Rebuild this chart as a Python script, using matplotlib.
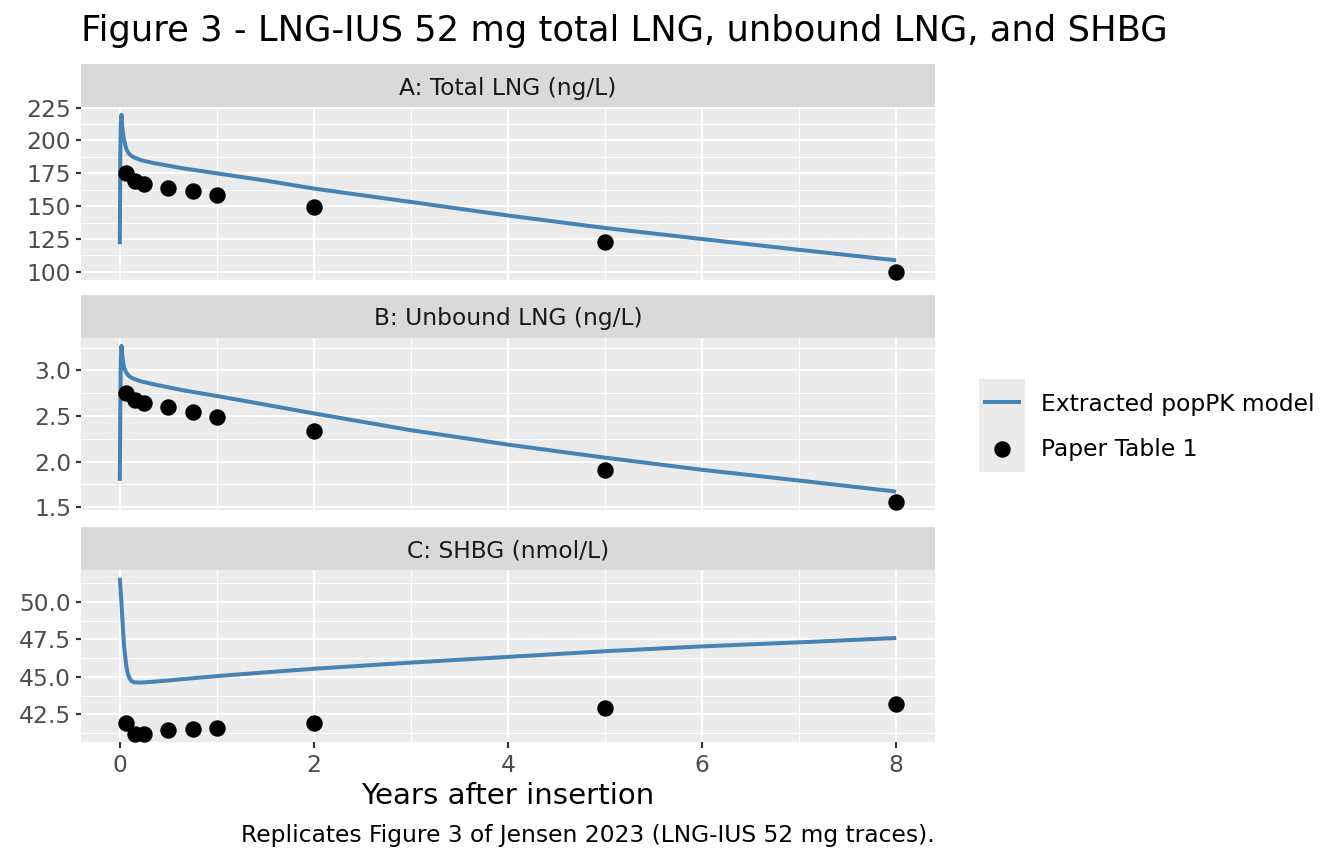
import matplotlib
matplotlib.use("Agg")
import matplotlib.pyplot as plt
from matplotlib.lines import Line2D
from matplotlib.patches import Rectangle
from matplotlib.ticker import MultipleLocator, FormatStrFormatter

# ---------------- data ----------------
model_years = [0, 0.005, 0.01, 0.017, 0.025, 0.035, 0.045, 0.06, 0.07, 0.085, 0.1, 0.12,
               0.15, 0.22, 0.35, 0.5, 0.65, 1.0, 1.5, 2, 3, 4, 5, 6, 7, 8]
model_total_lng = [121, 190, 212, 219.5, 210, 204.5, 200, 195.5, 193, 191, 189.5, 188.3,
                   187, 185, 182.8, 180.8, 178.8, 175, 169.5, 163.4, 153.2, 142.9, 133.4,
                   125, 116.8, 108.8]
model_unbound_lng = [1.79, 2.6, 3.1, 3.27, 3.17, 3.08, 3.03, 2.99, 2.97, 2.95, 2.935, 2.92,
                     2.905, 2.88, 2.848, 2.815, 2.783, 2.72, 2.625, 2.529, 2.345, 2.187,
                     2.044, 1.911, 1.793, 1.672]
model_shbg = [51.6, 51.1, 50.6, 49.9, 49.0, 47.9, 47.0, 46.1, 45.6, 45.15, 44.9, 44.72,
              44.63, 44.62, 44.68, 44.76, 44.85, 45.05, 45.3, 45.54, 45.95, 46.33, 46.71,
              47.03, 47.3, 47.59]

obs_years = [0.06, 0.16, 0.25, 0.5, 0.75, 1, 2, 5, 8]
obs_total_lng = [175.5, 169.1, 166.8, 164.2, 161.2, 158.8, 149.1, 122.8, 99.8]
obs_unbound_lng = [2.755, 2.68, 2.645, 2.595, 2.545, 2.495, 2.335, 1.905, 1.556]
obs_shbg = [41.95, 41.22, 41.18, 41.43, 41.5, 41.62, 41.92, 42.9, 43.19]

panel_titles = ["A: Total LNG (ng/L)", "B: Unbound LNG (ng/L)", "C: SHBG (nmol/L)"]
legend_labels = ["Extracted popPK model", "Paper Table 1"]
title_text = "Figure 3 - LNG-IUS 52 mg total LNG, unbound LNG, and SHBG"
x_label = "Years after insertion"
caption_text = "Replicates Figure 3 of Jensen 2023 (LNG-IUS 52 mg traces)."

# ---------------- style ----------------
W, H, DPI = 1344, 864, 144
LINE_COLOR = "#4682B4"
PANEL_BG = "#EBEBEB"
STRIP_BG = "#D9D9D9"
SMALL = 11.7
plt.rcParams["font.family"] = ["DejaVu Sans"]

fig = plt.figure(figsize=(W / DPI, H / DPI), dpi=DPI)
fig.patch.set_facecolor("white")


def fx(px):
    return px / W


def fy(py):
    return 1 - py / H


left_px, right_px = 81, 935
strip_tops = [64, 295, 527]
panel_tops = [107, 338, 570]
panel_bottoms = [280, 510, 742]

model_series = [model_total_lng, model_unbound_lng, model_shbg]
obs_series = [obs_total_lng, obs_unbound_lng, obs_shbg]
y_major = [25, 0.5, 2.5]
y_fmt = ["%d", "%.1f", "%.1f"]

for i in range(3):
    # strip
    sax = fig.add_axes([fx(left_px), fy(panel_tops[i]), fx(right_px - left_px),
                        (panel_tops[i] - strip_tops[i]) / H])
    sax.set_facecolor(STRIP_BG)
    sax.set_xticks([])
    sax.set_yticks([])
    for s in sax.spines.values():
        s.set_visible(False)
    sax.text(0.5, 0.5, panel_titles[i], ha="center", va="center_baseline",
             fontsize=SMALL, color="#1A1A1A", transform=sax.transAxes)

    ax = fig.add_axes([fx(left_px), fy(panel_bottoms[i]), fx(right_px - left_px),
                       (panel_bottoms[i] - panel_tops[i]) / H])
    ax.set_facecolor(PANEL_BG)
    for s in ax.spines.values():
        s.set_visible(False)
    ax.plot(model_years, model_series[i], color=LINE_COLOR, lw=2.0,
            solid_capstyle="butt", solid_joinstyle="round", zorder=3)
    ax.plot(obs_years, obs_series[i], linestyle="none", marker="o",
            markersize=7.2, color="black", zorder=4)
    ax.set_xlim(-0.4, 8.4)
    ax.margins(y=0.05)
    ax.xaxis.set_major_locator(MultipleLocator(2))
    ax.xaxis.set_minor_locator(MultipleLocator(1))
    ax.yaxis.set_major_locator(MultipleLocator(y_major[i]))
    ax.yaxis.set_minor_locator(MultipleLocator(y_major[i] / 2))
    ax.yaxis.set_major_formatter(FormatStrFormatter(y_fmt[i]))
    ax.set_axisbelow(True)
    ax.grid(which="major", color="white", lw=1.07)
    ax.grid(which="minor", color="white", lw=0.53)
    ax.tick_params(which="minor", length=0)
    ax.tick_params(axis="both", which="major", length=2.75, width=1.07,
                   color="#333333", labelcolor="#4D4D4D", labelsize=SMALL, pad=2.2)
    if i < 2:
        ax.tick_params(axis="x", which="major", length=0, labelbottom=False)
    else:
        ax.tick_params(axis="x", which="major", pad=3)
        ax.set_xlabel(x_label, fontsize=14.6, color="black", labelpad=3)

# title and caption
fig.text(fx(81), fy(41.5), title_text, fontsize=17.6, color="black",
         ha="left", va="baseline")
fig.text(fx(935), fy(842), caption_text, fontsize=SMALL, color="black",
         ha="right", va="baseline")

# legend (ggplot-like)
fig.add_artist(Rectangle((fx(979), fy(472)), fx(1025 - 979), (472 - 379) / H,
                         transform=fig.transFigure, facecolor=PANEL_BG,
                         edgecolor="none"))
fig.add_artist(Line2D([fx(983), fx(1021)], [fy(402.5), fy(402.5)],
                      transform=fig.transFigure, color=LINE_COLOR, lw=2.0,
                      solid_capstyle="butt"))
fig.add_artist(Line2D([fx(1002)], [fy(449)], transform=fig.transFigure,
                      linestyle="none", marker="o", markersize=7.2, color="black"))
fig.text(fx(1041), fy(411), legend_labels[0], fontsize=SMALL, color="black",
         ha="left", va="baseline")
fig.text(fx(1041), fy(456), legend_labels[1], fontsize=SMALL, color="black",
         ha="left", va="baseline")

fig.savefig("out.png", dpi=DPI, facecolor="white")
